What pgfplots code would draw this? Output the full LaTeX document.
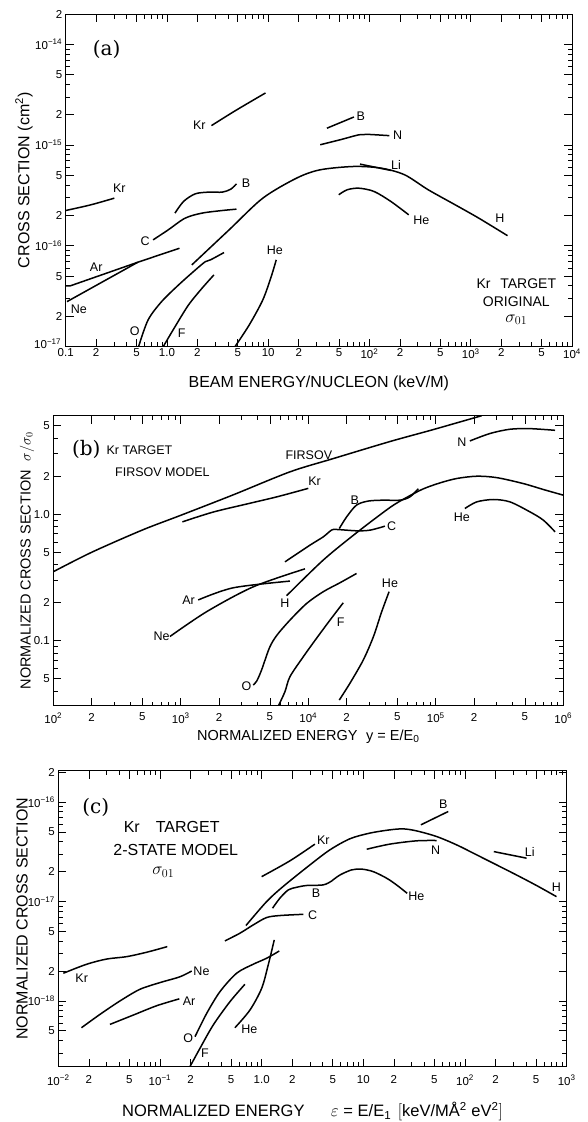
\documentclass[border=0pt]{standalone}
\usepackage{pgfplots}
\pgfplotsset{compat=1.18}
\usepackage{fontspec}
\setmainfont{Liberation Sans}
\newfontfamily\seriffont{DejaVu Serif}
\newcommand{\fs}[1]{\fontsize{#1}{#1}\selectfont}
\newcommand{\tp}[1]{10\textsuperscript{#1}}

\begin{document}
\begin{tikzpicture}
\useasboundingbox (0,0) rectangle (587pt,1122pt);

% ---------------- panel (a) ----------------
\begin{axis}[
  scale only axis, xmode=log, ymode=log, anchor=south west,
  tick align=inside, major tick length=8pt, minor tick length=4.5pt,
  tick style={black, line width=0.8pt},
  axis line style={line width=1pt},
  tick label style={font=\fs{11.5}},
  xticklabel style={yshift=1.5pt},
  at={(65.7pt,775.5pt)}, width=506.3pt, height=332.5pt,
  xmin=0.1, xmax=1e4, ymin=1e-17, ymax=2e-14,
  xtick={0.1,0.2,0.5,1,2,5,10,20,50,100,200,500,1000,2000,5000,10000},
  xticklabels={0.1,2,5,1.0,2,5,10,2,5,\tp{2},2,5,\tp{3},2,5,\tp{4}},
  minor xtick={0.3,0.4,0.6,0.7,0.8,0.9,3,4,6,7,8,9,30,40,60,70,80,90,300,400,600,700,800,900,3000,4000,6000,7000,8000,9000},
  ytick={2e-17,5e-17,1e-16,2e-16,5e-16,1e-15,2e-15,5e-15,1e-14,2e-14},
  yticklabels={2,5,\tp{−16},2,5,\tp{−15},2,5,\tp{−14},2},
  extra y ticks={1e-17},
  extra y tick labels={\tp{−17}},
  extra y tick style={yticklabel style={yshift=3pt, xshift=-1pt}},
  minor ytick={3e-17,4e-17,6e-17,7e-17,8e-17,9e-17,3e-16,4e-16,6e-16,7e-16,8e-16,9e-16,3e-15,4e-15,6e-15,7e-15,8e-15,9e-15},
  xlabel={BEAM ENERGY/NUCLEON (keV/M)},
  ylabel={CROSS SECTION (cm\textsuperscript{2})},
  xlabel style={font=\fs{16}, at={(axis description cs:0.5,-0.11)}, anchor=center},
  ylabel style={font=\fs{16}, at={(axis description cs:-0.0824,0.5)}, anchor=center},
]
\addplot[black, line width=1.5pt, smooth] coordinates {(2.75,1.56e-15) (4.79,2.21e-15) (9.4,3.29e-15)};
\addplot[black, line width=1.5pt, smooth] coordinates {(0.1,2.24e-16) (0.177,2.55e-16) (0.302,2.97e-16)};
\addplot[black, line width=1.5pt, smooth] coordinates {(1.2,2.11e-16) (1.46,2.76e-16) (1.905,3.28e-16) (2.59,3.41e-16) (3.52,3.41e-16) (4.27,3.65e-16) (4.86,4.12e-16)};
\addplot[black, line width=1.5pt, smooth] coordinates {(0.73,1.145e-16) (1.03,1.44e-16) (1.51,1.88e-16) (2.22,2.11e-16) (3.52,2.24e-16) (4.86,2.31e-16)};
\addplot[black, line width=1.5pt] coordinates {(0.1,3.99e-17) (0.11,3.99e-17) (0.516,6.87e-17) (1.33,9.46e-17)};
\addplot[black, line width=1.5pt] coordinates {(0.103,2.79e-17) (0.516,6.87e-17)};
\addplot[black, line width=1.5pt, smooth] coordinates {(0.525,1e-17) (0.65,1.83e-17) (0.885,2.79e-17) (1.30,4.08e-17) (1.905,5.75e-17) (2.40,6.97e-17) (2.69,7.25e-17) (3.66,8.57e-17)};
\addplot[black, line width=1.5pt, smooth] coordinates {(1.76,6.46e-17) (4.11,1.44e-16) (8.84,2.97e-16) (19.1,4.70e-16) (32.6,5.68e-16) (70.2,6.13e-16) (130,5.90e-16) (222,5.07e-16) (380,3.60e-16) (703,2.55e-16) (1202,1.88e-16) (2307,1.26e-16)};
\addplot[black, line width=1.5pt] coordinates {(80.7,6.47e-16) (163,5.60e-16)};
\addplot[black, line width=1.5pt] coordinates {(38,1.47e-15) (70.2,1.90e-15)};
\addplot[black, line width=1.5pt, smooth] coordinates {(32.6,1.007e-15) (51.6,1.13e-15) (78.8,1.265e-15) (95.5,1.277e-15) (157,1.24e-15)};
\addplot[black, line width=1.5pt, smooth] coordinates {(49.7,3.21e-16) (60.3,3.60e-16) (78.8,3.73e-16) (111,3.46e-16) (163,2.75e-16) (244,2.03e-16)};
\addplot[black, line width=1.5pt, smooth] coordinates {(0.92,1e-17) (1.2,1.57e-17) (1.63,2.58e-17) (2.22,3.79e-17) (2.91,5.14e-17)};
\addplot[black, line width=1.5pt, smooth] coordinates {(4.71,1e-17) (6.5,1.64e-17) (8.84,2.90e-17) (10.7,4.94e-17) (12.0,7.25e-17)};
\node[font=\fs{12.5}] at (axis cs:2.09,1.56e-15) {Kr};
\node[font=\fs{12.5}] at (axis cs:0.339,3.73e-16) {Kr};
\node[font=\fs{12.5}] at (axis cs:6.03,4.19e-16) {B};
\node[font=\fs{12.5}] at (axis cs:0.61,1.1e-16) {C};
\node[font=\fs{12.5}] at (axis cs:0.2,6.2e-17) {Ar};
\node[font=\fs{12.5}] at (axis cs:0.135,2.34e-17) {Ne};
\node[font=\fs{12.5}] at (axis cs:0.48,1.43e-17) {O};
\node[font=\fs{12.5}] at (axis cs:1.40,1.35e-17) {F};
\node[font=\fs{12.5}] at (axis cs:11.6,9.1e-17) {He};
\node[font=\fs{12.5}] at (axis cs:81.9,1.95e-15) {B};
\node[font=\fs{12.5}] at (axis cs:190,1.24e-15) {N};
\node[font=\fs{12.5}] at (axis cs:183,6.37e-16) {Li};
\node[font=\fs{12.5}] at (axis cs:326,1.81e-16) {He};
\node[font=\fs{12.5}] at (axis cs:1936,1.88e-16) {H};
\node[font=\fs{20}\seriffont] at (axis description cs:0.081,0.893) {(a)};
\node[font=\fs{14}] at (axis description cs:0.890,0.19) {Kr\hspace{0.7em}TARGET};
\node[font=\fs{14}] at (axis description cs:0.890,0.135) {ORIGINAL};
\node[font=\fs{17}] at (axis description cs:0.890,0.08) {$\sigma_{01}$};
\end{axis}

% ---------------- panel (b) ----------------
\begin{axis}[
  scale only axis, xmode=log, ymode=log, anchor=south west,
  tick align=inside, major tick length=8pt, minor tick length=4.5pt,
  tick style={black, line width=0.8pt},
  axis line style={line width=1pt},
  tick label style={font=\fs{11.5}},
  xticklabel style={yshift=-3.5pt},
  at={(53.3pt,416pt)}, width=510pt, height=290.3pt,
  xmin=100, xmax=1e6, ymin=0.0305, ymax=6,
  xtick={100,200,500,1000,2000,5000,1e4,2e4,5e4,1e5,2e5,5e5,1e6},
  xticklabels={\tp{2},2,5,\tp{3},2,5,\tp{4},2,5,\tp{5},2,5,\tp{6}},
  minor xtick={300,400,600,700,800,900,3000,4000,6000,7000,8000,9000,3e4,4e4,6e4,7e4,8e4,9e4,3e5,4e5,6e5,7e5,8e5,9e5},
  ytick={0.05,0.1,0.2,0.5,1,2,5},
  yticklabels={5,0.1,2,5,1.0,2,5},
  minor ytick={0.04,0.06,0.07,0.08,0.09,0.3,0.4,0.6,0.7,0.8,0.9,3,4},
  xlabel={NORMALIZED ENERGY\hspace{0.6em}y = E/E\textsubscript{0}},
  ylabel={NORMALIZED CROSS SECTION\hspace{0.6em}$\sigma/\sigma_0$},
  xlabel style={font=\fs{14.5}, at={(axis description cs:0.5,-0.106)}, anchor=center},
  ylabel style={font=\fs{14.5}, at={(axis description cs:-0.0516,0.5)}, anchor=center},
]
\addplot[black, line width=1.5pt, smooth] coordinates {(100,0.351) (200,0.50) (500,0.75) (1000,0.98) (2570,1.42) (7180,2.16) (15700,2.75) (43700,3.75) (95500,4.66) (229000,6.0)};
\addplot[black, line width=1.5pt, smooth] coordinates {(1030,0.87) (1800,1.04) (3490,1.22) (5820,1.38) (10000,1.60)};
\addplot[black, line width=1.5pt, smooth] coordinates {(1370,0.21) (2580,0.262) (7180,0.296)};
\addplot[black, line width=1.5pt, smooth] coordinates {(822,0.108) (1600,0.17) (3710,0.267) (9420,0.37)};
\addplot[black, line width=1.5pt, smooth] coordinates {(6760,0.227) (13100,0.434) (23900,0.713) (43700,1.129) (59000,1.355) (79800,1.585) (108000,1.767) (146000,1.914) (209000,1.995) (300000,1.945) (485000,1.746) (697000,1.567) (1e6,1.413)};
\addplot[black, line width=1.5pt, smooth] coordinates {(17500,0.77) (20000,0.953) (23900,1.18) (29600,1.27) (38700,1.29) (52400,1.29) (62700,1.37) (73000,1.59)};
\addplot[black, line width=1.5pt, smooth] coordinates {(6560,0.42) (10300,0.569) (13100,0.662) (15200,0.748) (16700,0.757) (23900,0.739) (30500,0.748) (39900,0.804)};
\addplot[black, line width=1.5pt, smooth] coordinates {(3700,0.0447) (3940,0.048) (4300,0.0587) (4960,0.088) (5650,0.11) (7180,0.1455) (9700,0.197) (13100,0.244) (17700,0.287) (23900,0.340)};
\addplot[black, line width=1.5pt, smooth] coordinates {(5820,0.0305) (6560,0.0396) (7180,0.052) (9140,0.0748) (11600,0.1045) (14800,0.1455) (18800,0.1995)};
\addplot[black, line width=1.5pt, smooth] coordinates {(17500,0.034) (21200,0.0461) (27000,0.0705) (32400,0.1076) (37600,0.169) (43000,0.244)};
\addplot[black, line width=1.5pt, smooth] coordinates {(169000,1.108) (209000,1.25) (283000,1.306) (382000,1.25) (548000,1.042) (697000,0.897) (861000,0.726)};
\addplot[black, line width=1.5pt, smooth] coordinates {(185000,3.79) (266000,4.34) (382000,4.69) (548000,4.74) (861000,4.60)};
\node[font=\fs{12.5}] at (axis cs:11200,1.83) {Kr};
\node[font=\fs{12.5}] at (axis cs:23200,1.29) {B};
\node[font=\fs{12.5}] at (axis cs:45100,0.80) {C};
\node[font=\fs{12.5}] at (axis cs:1150,0.21) {Ar};
\node[font=\fs{12.5}] at (axis cs:707,0.108) {Ne};
\node[font=\fs{12.5}] at (axis cs:6560,0.197) {H};
\node[font=\fs{12.5}] at (axis cs:3280,0.044) {O};
\node[font=\fs{12.5}] at (axis cs:17950,0.141) {F};
\node[font=\fs{12.5}] at (axis cs:43700,0.287) {He};
\node[font=\fs{12.5}] at (axis cs:160000,0.95) {He};
\node[font=\fs{12.5}] at (axis cs:160000,3.72) {N};
\node[font=\fs{12.5}] at (axis cs:10100,2.92) {FIRSOV};
\node[font=\fs{20}\seriffont] at (axis description cs:0.0647,0.885) {(b)};
\node[font=\fs{12.5}, anchor=west] at (axis description cs:0.0976,0.8795) {Kr TARGET};
\node[font=\fs{12.5}, anchor=west] at (axis description cs:0.1145,0.8037) {FIRSOV MODEL};
\end{axis}

% ---------------- panel (c) ----------------
\begin{axis}[
  scale only axis, xmode=log, ymode=log, anchor=south west,
  tick align=inside, major tick length=8pt, minor tick length=4.5pt,
  tick style={black, line width=0.8pt},
  axis line style={line width=1pt},
  tick label style={font=\fs{11.5}},
  xticklabel style={yshift=-5pt},
  at={(58.3pt,55.3pt)}, width=508.4pt, height=296pt,
  xmin=0.01, xmax=1000, ymin=2.18e-19, ymax=2.07e-16,
  xtick={0.01,0.02,0.05,0.1,0.2,0.5,1,2,5,10,20,50,100,200,500,1000},
  xticklabels={\tp{−2},2,5,\tp{−1},2,5,1.0,2,5,10,2,5,\tp{2},2,5,\tp{3}},
  minor xtick={0.03,0.04,0.06,0.07,0.08,0.09,0.3,0.4,0.6,0.7,0.8,0.9,3,4,6,7,8,9,30,40,60,70,80,90,300,400,600,700,800,900},
  ytick={5e-19,1e-18,2e-18,5e-18,1e-17,2e-17,5e-17,1e-16,2e-16},
  yticklabels={5,\tp{−18},2,5,\tp{−17},2,5,\tp{−16},2},
  minor ytick={3e-19,4e-19,6e-19,7e-19,8e-19,9e-19,3e-18,4e-18,6e-18,7e-18,8e-18,9e-18,3e-17,4e-17,6e-17,7e-17,8e-17,9e-17},
  xlabel={NORMALIZED ENERGY\hspace{1.6em}$\varepsilon$ = E/E\textsubscript{1}\hspace{0.4em}$\Big[$keV/MÅ\textsuperscript{2} eV\textsuperscript{2}$\Big]$},
  ylabel={NORMALIZED CROSS SECTION},
  xlabel style={font=\fs{16.5}, at={(axis description cs:0.5,-0.152)}, anchor=center},
  ylabel style={font=\fs{16}, at={(axis description cs:-0.0714,0.5)}, anchor=center},
]
\addplot[black, line width=1.5pt, smooth] coordinates {(0.0112,1.90e-18) (0.019,2.34e-18) (0.0299,2.64e-18) (0.047,2.79e-18) (0.074,3.09e-18) (0.118,3.52e-18)};
\addplot[black, line width=1.5pt, smooth] coordinates {(0.0169,5.38e-19) (0.0257,7.33e-19) (0.0404,1.0e-18) (0.0635,1.31e-18) (0.1,1.53e-18) (0.157,1.75e-18) (0.205,2.0e-18)};
\addplot[black, line width=1.5pt, smooth] coordinates {(0.0322,5.81e-19) (0.0546,7.21e-19) (0.0927,8.95e-19) (0.155,1.05e-18)};
\addplot[black, line width=1.5pt, smooth] coordinates {(0.221,4.37e-19) (0.288,7.5e-19) (0.389,1.24e-18) (0.567,1.90e-18) (0.826,2.34e-18) (1.12,2.69e-18) (1.49,3.18e-18)};
\addplot[black, line width=1.5pt, smooth] coordinates {(0.197,2.18e-19) (0.247,3.33e-19) (0.334,5.73e-19) (0.488,9.84e-19) (0.684,1.47e-18)};
\addplot[black, line width=1.5pt, smooth] coordinates {(0.546,5.38e-19) (0.767,8.1e-19) (1.0,1.34e-18) (1.16,2.30e-18) (1.33,4.11e-18)};
\addplot[black, line width=1.5pt, smooth] coordinates {(0.435,4.02e-18) (0.611,4.80e-18) (0.826,5.82e-18) (1.117,6.90e-18) (1.51,7.23e-18) (2.57,7.44e-18)};
\addplot[black, line width=1.5pt, smooth] coordinates {(1.0,1.78e-17) (1.9,2.57e-17) (3.34,3.78e-17)};
\addplot[black, line width=1.5pt, smooth] coordinates {(0.70,5.73e-18) (1.12,1e-17) (1.63,1.42e-17) (2.99,2.34e-17) (4.69,3.31e-17) (7.38,4.28e-17) (11.6,4.88e-17) (18.2,5.26e-17) (24.7,5.38e-17) (33.3,5.14e-17) (52.5,4.51e-17) (82.5,3.72e-17) (130,2.95e-17) (204,2.34e-17) (321,1.85e-17) (505,1.45e-17) (794,1.12e-17)};
\addplot[black, line width=1.5pt, smooth] coordinates {(1.28,8.57e-18) (1.51,1.08e-17) (1.83,1.31e-17) (2.2,1.39e-17) (2.77,1.45e-17) (4.04,1.47e-17) (4.88,1.61e-17)};
\addplot[black, line width=1.5pt, smooth] coordinates {(4.88,1.61e-17) (5.89,1.85e-17) (7.66,2.08e-17) (9.6,2.12e-17) (12.5,2.0e-17) (16.9,1.72e-17) (21.2,1.47e-17) (27.0,1.21e-17)};
\addplot[black, line width=1.5pt, smooth] coordinates {(10.8,3.36e-17) (18.2,3.78e-17) (33.3,4.08e-17) (52.5,4.11e-17)};
\addplot[black, line width=1.5pt] coordinates {(36.8,5.91e-17) (68.4,8.05e-17)};
\addplot[black, line width=1.5pt] coordinates {(192,3.18e-17) (403,2.73e-17)};
\node[font=\fs{12.5}] at (axis cs:0.017,1.71e-18) {Kr};
\node[font=\fs{12.5}] at (axis cs:0.256,2.0e-18) {Ne};
\node[font=\fs{12.5}] at (axis cs:0.193,1.0e-18) {Ar};
\node[font=\fs{12.5}] at (axis cs:0.19,4.2e-19) {O};
\node[font=\fs{12.5}] at (axis cs:0.277,3.0e-19) {F};
\node[font=\fs{12.5}] at (axis cs:0.755,5.2e-19) {He};
\node[font=\fs{12.5}] at (axis cs:3.17,7.3e-18) {C};
\node[font=\fs{12.5}] at (axis cs:4.04,4.18e-17) {Kr};
\node[font=\fs{12.5}] at (axis cs:3.42,1.21e-17) {B};
\node[font=\fs{12.5}] at (axis cs:33.3,1.12e-17) {He};
\node[font=\fs{12.5}] at (axis cs:51.3,3.31e-17) {N};
\node[font=\fs{12.5}] at (axis cs:61,9.5e-17) {B};
\node[font=\fs{12.5}] at (axis cs:434,3.18e-17) {Li};
\node[font=\fs{12.5}] at (axis cs:794,1.38e-17) {H};
\node[font=\fs{20}\seriffont] at (axis description cs:0.0738,0.876) {(c)};
\node[font=\fs{16}] at (axis description cs:0.223,0.811) {Kr\hspace{1em}TARGET};
\node[font=\fs{16}] at (axis description cs:0.231,0.733) {2-STATE MODEL};
\node[font=\fs{17}] at (axis description cs:0.2065,0.657) {$\sigma_{01}$};
\end{axis}
\end{tikzpicture}
\end{document}
